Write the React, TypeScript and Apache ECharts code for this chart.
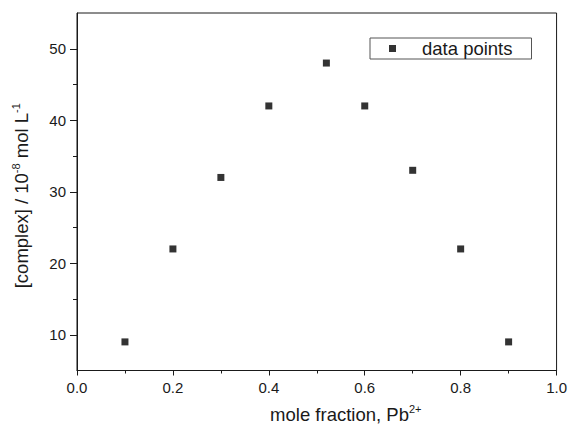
import React, { useEffect, useRef } from "react";
import * as echarts from "echarts";

const moleFraction = [0.1, 0.2, 0.3, 0.4, 0.52, 0.6, 0.7, 0.8, 0.9];
const complexConc = [9, 22, 32, 42, 48, 42, 33, 22, 9];
const xMajorTicks = [0, 0.2, 0.4, 0.6, 0.8, 1.0];
const xMinorTicks = [0.1, 0.3, 0.5, 0.7, 0.9];
const yMajorTicks = [10, 20, 30, 40, 50];
const yMinorTicks = [15, 25, 35, 45];
const seriesName = "data points";

const FONT = "Liberation Sans, Arial, sans-serif";
const INK = "#1a1a1a";

export default function App() {
  const ref = useRef<HTMLDivElement>(null);
  useEffect(() => {
    if (!ref.current) return;
    const chart = echarts.init(ref.current, undefined, { renderer: "svg" });
    const axisCommon = {
      type: "value" as const,
      splitLine: { show: false },
    };
    const supStyle = { fontSize: 11, verticalAlign: "top", padding: [0, 0, 11, 0], fontFamily: FONT, color: INK };
    chart.setOption({
      animation: false,
      backgroundColor: "#ffffff",
      textStyle: { fontFamily: FONT, color: INK },
      grid: {
        left: 77,
        right: 13,
        top: 13,
        bottom: 58,
        show: true,
        borderColor: INK,
        borderWidth: 1,
        backgroundColor: "transparent",
      },
      legend: {
        data: [seriesName],
        left: 370,
        top: 38,
        orient: "horizontal",
        padding: [1, 19, 1, 19],
        borderColor: "#555",
        borderWidth: 1,
        itemWidth: 7,
        itemHeight: 7,
        icon: "rect",
        textStyle: { fontFamily: FONT, fontSize: 18.5, color: INK, padding: [0, 0, 0, 21] },
      },
      xAxis: [
        {
          ...axisCommon,
          min: 0,
          max: 1,
          interval: 0.2,
          position: "bottom",
          name: "mole fraction, Pb{sup|2+}",
          nameLocation: "middle",
          nameGap: 33,
          nameTextStyle: {
            fontFamily: FONT,
            fontSize: 18.5,
            color: INK,
            padding: [0, 0, 0, 58],
            rich: { sup: supStyle },
          },
          axisLine: { show: true, lineStyle: { color: INK, width: 1 } },
          axisTick: { show: true, inside: false, length: 5, customValues: xMajorTicks, lineStyle: { color: INK } },
          axisLabel: {
            show: true,
            fontFamily: FONT,
            fontSize: 15,
            color: INK,
            margin: 9,
            customValues: xMajorTicks,
            formatter: (v: number) => v.toFixed(1),
          },
        },
        {
          ...axisCommon,
          min: 0,
          max: 1,
          interval: 0.1,
          position: "bottom",
          axisLine: { show: false },
          axisTick: { show: true, inside: false, length: 3, customValues: xMinorTicks, lineStyle: { color: INK } },
          axisLabel: { show: false },
        },
      ],
      yAxis: [
        {
          ...axisCommon,
          min: 5,
          max: 55,
          interval: 5,
          position: "left",
          name: "[complex] / 10{sup|-8} mol L{sup|-1}",
          nameLocation: "middle",
          nameRotate: 90,
          nameGap: 45,
          nameTextStyle: {
            fontFamily: FONT,
            fontSize: 18.5,
            color: INK,
            padding: [0, 8, 0, 0],
            rich: { sup: supStyle },
          },
          axisLine: { show: true, lineStyle: { color: INK, width: 1 } },
          axisTick: { show: true, inside: false, length: 7, customValues: yMajorTicks, lineStyle: { color: INK } },
          axisLabel: {
            show: true,
            fontFamily: FONT,
            fontSize: 15,
            color: INK,
            margin: 11,
            customValues: yMajorTicks,
            formatter: (v: number) => String(v),
          },
        },
        {
          ...axisCommon,
          min: 5,
          max: 55,
          interval: 5,
          position: "left",
          axisLine: { show: false },
          axisTick: { show: true, inside: false, length: 4, customValues: yMinorTicks, lineStyle: { color: INK } },
          axisLabel: { show: false },
        },
      ],
      series: [
        {
          name: seriesName,
          type: "scatter",
          xAxisIndex: 0,
          yAxisIndex: 0,
          symbol: "rect",
          symbolSize: 7,
          itemStyle: { color: "#000" },
          data: moleFraction.map((x, i) => [x, complexConc[i]]),
        },
      ],
    });
    return () => chart.dispose();
  }, []);
  return (
    <div
      ref={ref}
      style={{ position: "absolute", left: 0, top: 0, width: 570, height: 429, background: "#fff" }}
    />
  );
}
